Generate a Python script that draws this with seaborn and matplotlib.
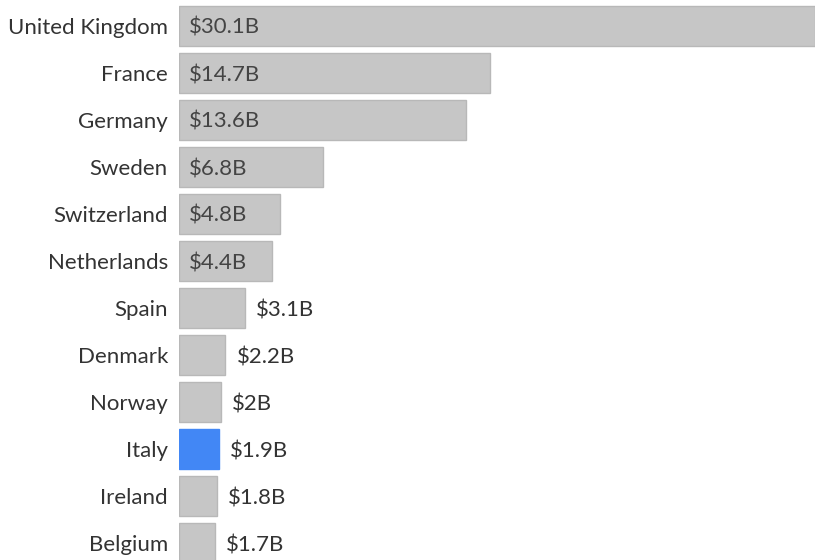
import matplotlib
matplotlib.use("Agg")
import matplotlib.pyplot as plt
import seaborn as sns
import pandas as pd

countries = ["United Kingdom", "France", "Germany", "Sweden", "Switzerland",
             "Netherlands", "Spain", "Denmark", "Norway", "Italy", "Ireland", "Belgium"]
values = [30.1, 14.7, 13.6, 6.8, 4.8, 4.4, 3.1, 2.2, 2.0, 1.9, 1.8, 1.7]
value_labels = ["$30.1B", "$14.7B", "$13.6B", "$6.8B", "$4.8B", "$4.4B",
                "$3.1B", "$2.2B", "$2B", "$1.9B", "$1.8B", "$1.7B"]
highlight = "Italy"

df = pd.DataFrame({"country": countries, "value": values})
df["group"] = ["hl" if c == highlight else "base" for c in countries]

sns.set_theme(style="white")
plt.rcParams["font.family"] = ["Lato", "DejaVu Sans"]

W, H = 815, 560
fig = plt.figure(figsize=(W / 100, H / 100), dpi=100)
left_px = 179
ax = fig.add_axes([left_px / W, 0, (W - left_px) / W, 1])

sns.barplot(data=df, x="value", y="country", hue="group",
            palette={"base": "#c6c6c6", "hl": "#4287f5"}, saturation=1,
            order=countries, dodge=False, legend=False, width=0.84,
            edgecolor="#b8b8b8", linewidth=1, ax=ax)
for p in ax.patches:
    fc = p.get_facecolor()
    if fc[2] - fc[0] > 0.3:
        p.set_edgecolor("#4287f5")

row_px = 47
top_px = 26
ax.set_xlim(0, 30.1)
ax.set_ylim((H - top_px) / row_px, -top_px / row_px)

fs = 16
px_per_unit = (W - left_px) / 30.1
for i, (v, lab) in enumerate(zip(values, value_labels)):
    if v >= 4.0:
        ax.text(10 / px_per_unit, i, lab, ha="left", va="center_baseline",
                fontsize=fs, color="#444444")
    else:
        ax.text(v + 11 / px_per_unit, i, lab, ha="left", va="center_baseline",
                fontsize=fs, color="#333333")

ax.set_xlabel("")
ax.set_ylabel("")
ax.set_xticks([])
ax.tick_params(axis="y", length=0, pad=8, labelsize=fs, labelcolor="#333333")
for s in ax.spines.values():
    s.set_visible(False)

fig.savefig("out.png", dpi=100)
